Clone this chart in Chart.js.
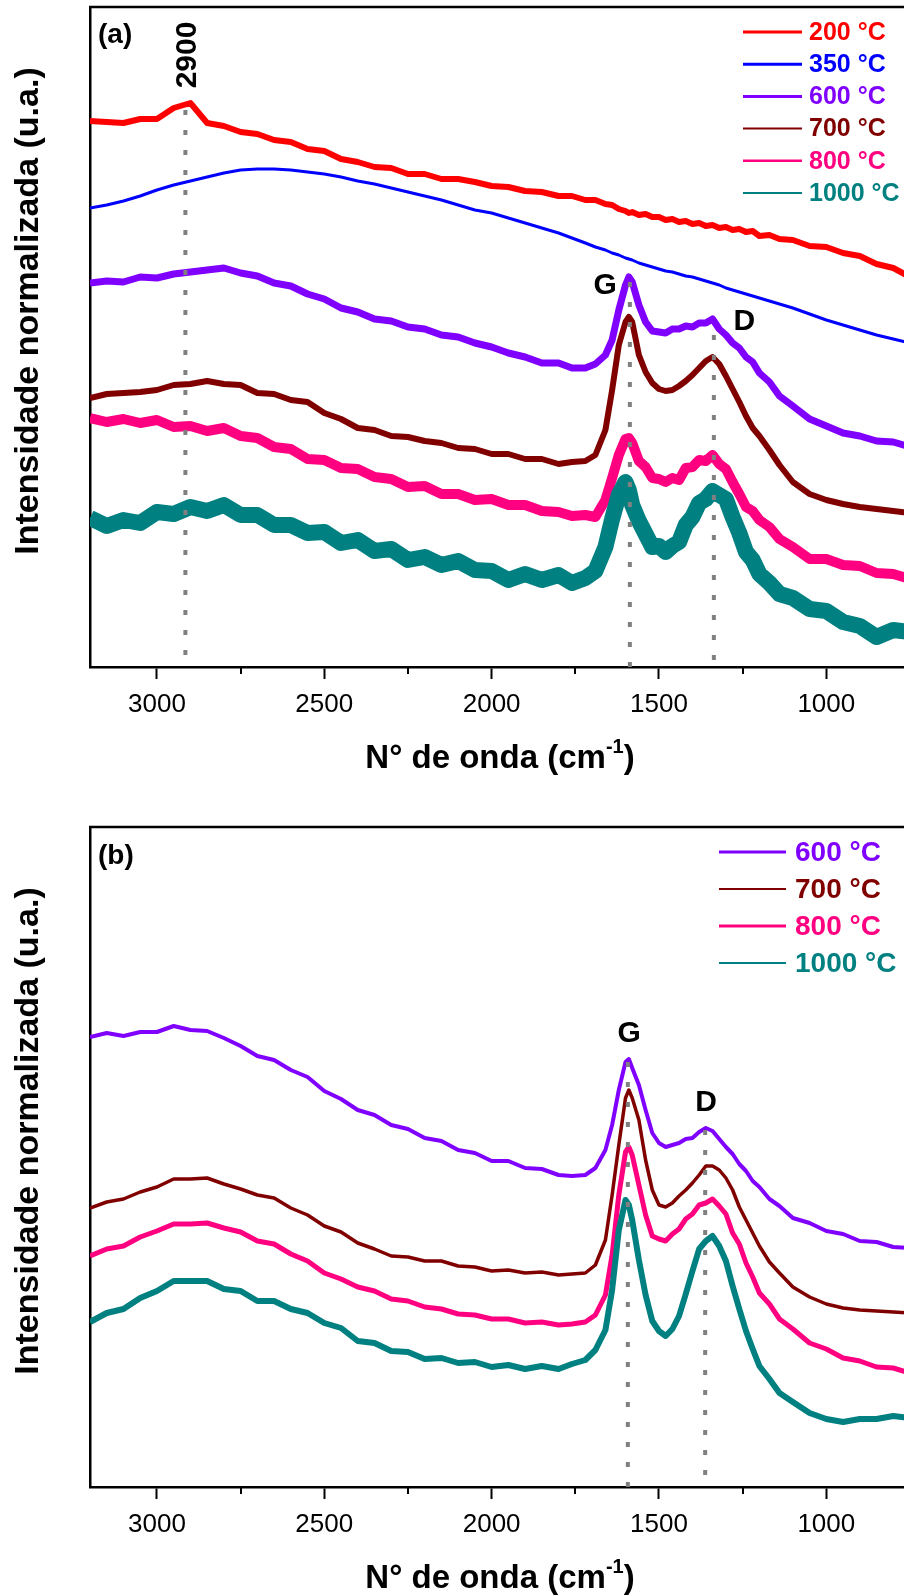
<!DOCTYPE html>
<html>
<head>
<meta charset="utf-8">
<script src="https://cdn.jsdelivr.net/npm/chart.js@4.4.1/dist/chart.umd.min.js"></script>
<style>
  html, body { margin: 0; padding: 0; background: #fff; overflow: hidden; width: 904px; height: 1596px; }
  .panel { position: absolute; left: 0; width: 920px; height: 820px; }
  #panelA { top: 0; }
  #panelB { top: 820px; }
</style>
</head>
<body>
<div class="panel" id="panelA"><canvas id="chartA" width="920" height="820"></canvas></div>
<div class="panel" id="panelB"><canvas id="chartB" width="920" height="820"></canvas></div>
<script>
// número de onda (cm-1), comum a todos os espectros
const waveNumbers = [3200, 3150, 3100, 3050, 3000, 2950, 2900, 2850, 2800, 2750,
  2700, 2650, 2600, 2550, 2500, 2450, 2400, 2350, 2300, 2250,
  2200, 2150, 2100, 2050, 2000, 1950, 1900, 1850, 1800, 1760,
  1720, 1690, 1660, 1640, 1620, 1600, 1590, 1580, 1560, 1540,
  1520, 1500, 1480, 1460, 1440, 1420, 1400, 1380, 1360, 1340,
  1320, 1300, 1280, 1260, 1240, 1220, 1200, 1170, 1140, 1100,
  1050, 1000, 950, 900, 850, 800, 750];

// painel (a) - intensidade normalizada (u.a.), curvas deslocadas
const a200 = [546, 545, 544, 548, 548, 559, 564, 544, 541, 535,
  533, 527, 525, 518, 516, 508, 505, 500, 499, 493,
  493, 488, 488, 485, 481, 480, 476, 475, 471, 471,
  467, 467, 463, 462, 458, 456, 454, 455, 452, 453,
  450, 450, 447, 448, 445, 446, 443, 444, 441, 442,
  439, 440, 437, 438, 435, 436, 431, 432, 428, 427,
  421, 420, 414, 411, 403, 399, 390];
const a350 = [459, 462, 466, 471, 477, 482, 486, 490, 494, 497,
  498, 498, 497, 495, 493, 490, 486, 483, 479, 475,
  471, 467, 462, 457, 454, 449, 444, 439, 434, 429,
  424, 420, 417, 414, 412, 409, 408, 407, 404, 402,
  400, 398, 396, 395, 393, 391, 390, 388, 386, 384,
  382, 379, 377, 375, 373, 371, 369, 366, 363, 359,
  353, 347, 342, 337, 332, 328, 324];
const a600 = [384, 386, 385, 390, 389, 393, 395, 397, 399, 394,
  391, 384, 381, 373, 368, 359, 355, 348, 346, 340,
  338, 332, 330, 324, 320, 314, 310, 304, 304, 299,
  299, 303, 312, 327, 357, 382, 390, 385, 362, 345,
  336, 335, 334, 338, 338, 341, 340, 344, 344, 348,
  338, 332, 324, 319, 310, 305, 294, 285, 271, 261,
  248, 241, 234, 231, 226, 225, 220];
const a700 = [269, 273, 274, 275, 277, 282, 283, 286, 283, 282,
  274, 273, 267, 265, 254, 248, 239, 237, 231, 230,
  226, 224, 219, 218, 213, 213, 208, 208, 203, 205,
  206, 212, 237, 277, 322, 345, 350, 345, 312, 295,
  284, 278, 276, 277, 281, 286, 292, 299, 306, 310,
  303, 291, 278, 265, 251, 239, 231, 217, 202, 185,
  173, 167, 163, 160, 158, 156, 154];
const a800 = [249, 245, 248, 244, 247, 240, 241, 236, 239, 231,
  229, 220, 218, 208, 207, 199, 198, 190, 188, 180,
  181, 173, 173, 167, 168, 162, 162, 156, 155, 151,
  152, 150, 167, 189, 212, 228, 229, 224, 206, 200,
  189, 188, 185, 189, 187, 199, 200, 207, 206, 212,
  203, 198, 185, 173, 160, 156, 147, 140, 128, 120,
  108, 108, 102, 101, 94, 93, 88];
const a1000 = [149, 141, 147, 144, 155, 153, 160, 156, 162, 152,
  152, 142, 142, 134, 135, 124, 127, 116, 118, 107,
  110, 102, 106, 97, 96, 87, 93, 87, 92, 84,
  89, 96, 120, 148, 172, 185, 177, 162, 146, 133,
  120, 121, 115, 121, 125, 142, 150, 164, 168, 176,
  172, 168, 150, 134, 115, 107, 93, 84, 73, 69,
  58, 56, 45, 41, 30, 37, 35];

// painel (b)
const b600 = [450, 454, 451, 455, 455, 461, 457, 456, 449, 441,
  431, 427, 417, 410, 396, 388, 377, 372, 362, 358,
  349, 346, 337, 334, 326, 326, 319, 318, 312, 311,
  312, 319, 337, 362, 397, 425, 428, 419, 402, 377,
  354, 344, 340, 342, 344, 348, 349, 355, 359, 356,
  348, 340, 333, 323, 316, 306, 300, 288, 281, 269,
  264, 256, 253, 246, 245, 240, 239];
const b700 = [279, 285, 288, 295, 300, 308, 308, 309, 303, 298,
  292, 289, 279, 272, 261, 255, 244, 238, 231, 230,
  226, 226, 221, 220, 216, 217, 214, 215, 212, 213,
  214, 222, 247, 292, 342, 389, 397, 389, 367, 327,
  297, 282, 280, 284, 291, 297, 304, 312, 321, 321,
  317, 309, 297, 280, 267, 254, 241, 225, 214, 200,
  190, 183, 179, 177, 176, 175, 174];
const b800 = [231, 238, 241, 250, 256, 263, 263, 264, 259, 255,
  246, 243, 233, 226, 214, 208, 200, 196, 188, 186,
  180, 178, 173, 172, 168, 168, 164, 165, 162, 163,
  165, 172, 192, 232, 292, 335, 340, 332, 302, 272,
  251, 248, 246, 253, 258, 268, 273, 282, 284, 288,
  281, 273, 254, 243, 224, 210, 194, 183, 168, 158,
  144, 138, 129, 126, 120, 119, 114];
const b1000 = [165, 174, 178, 189, 196, 206, 206, 206, 198, 196,
  186, 186, 178, 174, 164, 159, 146, 144, 136, 135,
  128, 129, 124, 125, 120, 122, 118, 121, 118, 123,
  127, 137, 157, 197, 257, 287, 282, 267, 227, 192,
  166, 156, 151, 158, 171, 193, 216, 238, 246, 251,
  241, 226, 201, 178, 156, 138, 121, 108, 94, 85,
  74, 68, 65, 68, 68, 71, 69];

// linhas tracejadas das bandas (posição e altura em u.a.)
const peakWaveA = [2915, 1587, 1336];
const peakTopA = [557, 385, 332];
const peakWaveB = [1593, 1362];
const peakTopB = [425, 357];

// marcas do eixo x
const xTicks = [3000, 2500, 2000, 1500, 1000];
const xMinorTicks = [2750, 2250, 1750, 1250];

const FONT = "'Liberation Sans', Arial, sans-serif";

const styles = {
  '200 °C':  { color: '#ff0000' },
  '350 °C':  { color: '#0000ff' },
  '600 °C':  { color: '#8000ff' },
  '700 °C':  { color: '#800000' },
  '800 °C':  { color: '#ff0080' },
  '1000 °C': { color: '#008080' }
};

function toPoints(values) {
  return values.map((v, i) => ({ x: waveNumbers[i], y: v }));
}

// plugin: moldura, legenda, rótulos e títulos dos eixos
function makeDecor(cfg) {
  return {
    id: 'decor',
    afterDraw(chart) {
      const { ctx, chartArea: ca, scales: { x, y } } = chart;
      ctx.save();

      // moldura superior e direita
      ctx.strokeStyle = '#000';
      ctx.lineWidth = 2.5;
      ctx.beginPath();
      ctx.moveTo(ca.left - 1, ca.top);
      ctx.lineTo(ca.right, ca.top);
      ctx.lineTo(ca.right, ca.bottom);
      ctx.stroke();

      // marcas menores
      ctx.lineWidth = 2;
      ctx.beginPath();
      xMinorTicks.forEach(v => {
        const px = Math.round(x.getPixelForValue(v));
        ctx.moveTo(px, ca.bottom);
        ctx.lineTo(px, ca.bottom + 7);
      });
      ctx.stroke();

      // legenda
      const lg = cfg.legend;
      ctx.font = 'bold ' + lg.size + 'px ' + FONT;
      ctx.textAlign = 'left';
      ctx.textBaseline = 'middle';
      cfg.series.forEach((s, i) => {
        const yy = lg.y0 + i * lg.dy;
        ctx.strokeStyle = styles[s.label].color;
        ctx.lineWidth = s.legendWidth;
        ctx.beginPath();
        ctx.moveTo(lg.x0, yy);
        ctx.lineTo(lg.x1, yy);
        ctx.stroke();
        ctx.fillStyle = styles[s.label].color;
        ctx.fillText(s.label, lg.tx, yy + 1);
      });

      // rótulos
      ctx.fillStyle = '#000';
      cfg.notes.forEach(n => {
        const px = x.getPixelForValue(n.x);
        const py = y.getPixelForValue(n.y);
        ctx.font = 'bold ' + n.size + 'px ' + FONT;
        ctx.textBaseline = 'middle';
        ctx.textAlign = n.align || 'center';
        if (n.rotate) {
          ctx.save();
          ctx.translate(px, py);
          ctx.rotate(-Math.PI / 2);
          ctx.textAlign = 'center';
          ctx.fillText(n.text, 0, 0);
          ctx.restore();
        } else {
          ctx.fillText(n.text, px, py);
        }
      });

      // título do eixo y
      ctx.save();
      ctx.translate(29, ca.top + 304);
      ctx.rotate(-Math.PI / 2);
      ctx.font = 'bold 34px ' + FONT;
      ctx.textAlign = 'center';
      ctx.textBaseline = 'middle';
      ctx.fillText('Intensidade normalizada (u.a.)', 0, 0);
      ctx.restore();

      // título do eixo x com expoente
      const main = 'N° de onda (cm';
      const sup = '-1';
      const tail = ')';
      ctx.textAlign = 'left';
      ctx.textBaseline = 'middle';
      ctx.font = 'bold 33px ' + FONT;
      const w1 = ctx.measureText(main).width;
      const w3 = ctx.measureText(tail).width;
      ctx.font = 'bold 20px ' + FONT;
      const w2 = ctx.measureText(sup).width;
      let tx = 500 - (w1 + w2 + w3) / 2;
      const ty = 759;
      ctx.font = 'bold 33px ' + FONT;
      ctx.fillText(main, tx, ty);
      tx += w1;
      ctx.font = 'bold 20px ' + FONT;
      ctx.fillText(sup, tx, ty - 12);
      tx += w2;
      ctx.font = 'bold 33px ' + FONT;
      ctx.fillText(tail, tx, ty);

      ctx.restore();
    }
  };
}

function makePanel(canvasId, cfg) {
  const n = cfg.series.length;
  const datasets = cfg.series.map((s, i) => ({
    label: s.label,
    data: toPoints(s.values),
    borderColor: styles[s.label].color,
    borderWidth: s.width,
    borderJoinStyle: 'round',
    pointRadius: 0,
    order: n - i + 1
  }));
  cfg.peakWaves.forEach((w, i) => {
    datasets.push({
      label: 'banda ' + w,
      data: [{ x: w, y: cfg.peakTops[i] }, { x: w, y: 0 }],
      borderColor: '#808080',
      borderWidth: 4,
      borderDash: [5, 15],
      pointRadius: 0,
      order: 0
    });
  });

  return new Chart(document.getElementById(canvasId), {
    type: 'line',
    data: { datasets },
    options: {
      responsive: false,
      animation: false,
      events: [],
      layout: { padding: { left: 0, top: 7, right: 10, bottom: 0 } },
      plugins: { legend: { display: false }, tooltip: { enabled: false } },
      scales: {
        x: {
          type: 'linear',
          reverse: true,
          min: 750,
          max: 3200,
          afterBuildTicks: s => { s.ticks = xTicks.map(v => ({ value: v })); },
          afterFit: s => { s.height = 153; },
          border: { display: true, color: '#000', width: 2.5 },
          grid: { drawOnChartArea: false, drawTicks: true, tickLength: 12, tickWidth: 2, tickColor: '#000' },
          ticks: {
            color: '#000',
            padding: 10,
            maxRotation: 0,
            font: { family: FONT, size: 26 },
            callback: v => String(v)
          }
        },
        y: {
          min: 0,
          max: 660,
          afterFit: s => { s.width = 90; },
          border: { display: true, color: '#000', width: 2.5 },
          grid: { display: false },
          ticks: { display: false }
        }
      }
    },
    plugins: [makeDecor(cfg)]
  });
}

makePanel('chartA', {
  series: [
    { label: '200 °C', values: a200, width: 6, legendWidth: 3 },
    { label: '350 °C', values: a350, width: 3, legendWidth: 3 },
    { label: '600 °C', values: a600, width: 7, legendWidth: 3 },
    { label: '700 °C', values: a700, width: 6, legendWidth: 2 },
    { label: '800 °C', values: a800, width: 10, legendWidth: 2.5 },
    { label: '1000 °C', values: a1000, width: 16, legendWidth: 2 }
  ],
  peakWaves: peakWaveA,
  peakTops: peakTopA,
  legend: { x0: 743, x1: 802, tx: 809, y0: 32, dy: 32.2, size: 25 },
  notes: [
    { text: '(a)', x: 3176, y: 632, size: 28, align: 'left' },
    { text: '2900', x: 2907, y: 612, size: 30, rotate: true },
    { text: 'G', x: 1661, y: 381, size: 30 },
    { text: 'D', x: 1245, y: 345, size: 30 }
  ]
});

makePanel('chartB', {
  series: [
    { label: '600 °C', values: b600, width: 4, legendWidth: 3 },
    { label: '700 °C', values: b700, width: 3.5, legendWidth: 2 },
    { label: '800 °C', values: b800, width: 5, legendWidth: 3 },
    { label: '1000 °C', values: b1000, width: 6, legendWidth: 2 }
  ],
  peakWaves: peakWaveB,
  peakTops: peakTopB,
  legend: { x0: 719, x1: 786, tx: 795, y0: 32, dy: 37, size: 28 },
  notes: [
    { text: '(b)', x: 3176, y: 631, size: 28, align: 'left' },
    { text: 'G', x: 1589, y: 453, size: 30 },
    { text: 'D', x: 1359, y: 384, size: 30 }
  ]
});
</script>
</body>
</html>
